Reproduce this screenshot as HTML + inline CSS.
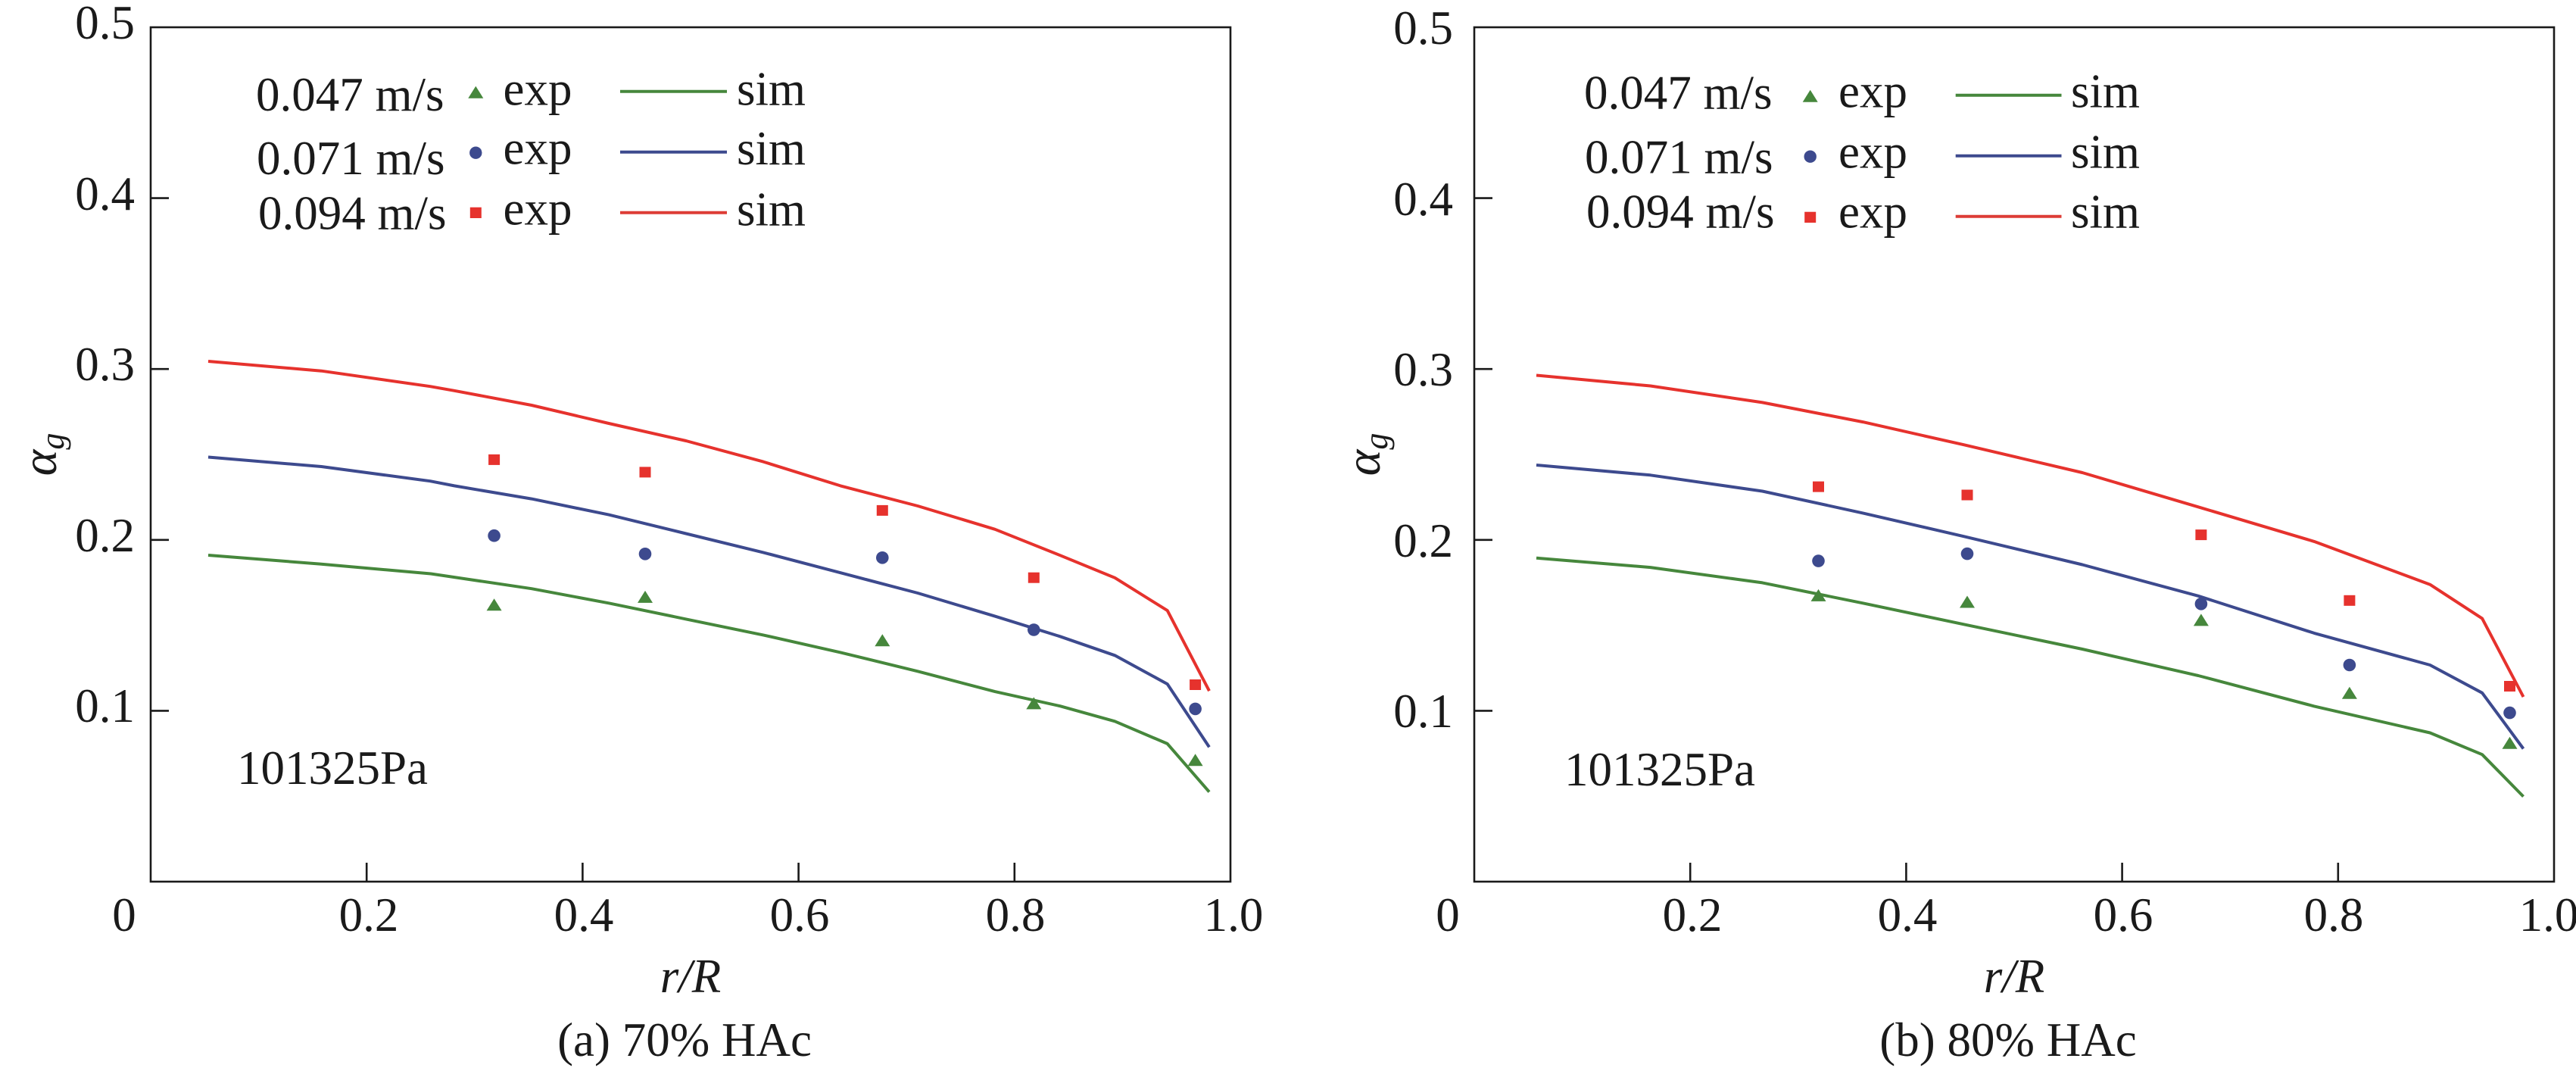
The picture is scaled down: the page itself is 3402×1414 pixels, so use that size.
<!DOCTYPE html>
<html>
<head>
<meta charset="utf-8">
<style>
  html, body { margin: 0; padding: 0; background: #ffffff; }
  svg { display: block; }
  text { font-family: "Liberation Serif", "Times New Roman", serif; fill: #1a1a1a; }
</style>
</head>
<body>
<svg width="3402" height="1414" viewBox="0 0 3402 1414" xmlns="http://www.w3.org/2000/svg" font-family="'Liberation Serif', serif">
  <rect x="0" y="0" width="3402" height="1414" fill="#ffffff"/>

  <!-- ================= LEFT PLOT ================= -->
  <g>
    <rect x="199" y="36" width="1426" height="1128" fill="none" stroke="#1a1a1a" stroke-width="2.6"/>
    <g stroke="#1a1a1a" stroke-width="2.6">
      <line x1="199" y1="938.4" x2="223" y2="938.4"/>
      <line x1="199" y1="712.8" x2="223" y2="712.8"/>
      <line x1="199" y1="487.2" x2="223" y2="487.2"/>
      <line x1="199" y1="261.6" x2="223" y2="261.6"/>
      <line x1="484.2" y1="1164" x2="484.2" y2="1139"/>
      <line x1="769.4" y1="1164" x2="769.4" y2="1139"/>
      <line x1="1054.6" y1="1164" x2="1054.6" y2="1139"/>
      <line x1="1339.8" y1="1164" x2="1339.8" y2="1139"/>
    </g>
    <g font-size="63" text-anchor="end">
      <text x="178" y="51">0.5</text>
      <text x="178" y="277">0.4</text>
      <text x="178" y="502">0.3</text>
      <text x="178" y="728">0.2</text>
      <text x="178" y="953">0.1</text>
    </g>
    <g font-size="63" text-anchor="middle">
      <text x="164" y="1229">0</text>
      <text x="487" y="1229">0.2</text>
      <text x="771" y="1229">0.4</text>
      <text x="1056" y="1229">0.6</text>
      <text x="1341" y="1229">0.8</text>
      <text x="1629" y="1229">1.0</text>
    </g>
    <text x="912" y="1310" font-size="63" font-style="italic" text-anchor="middle">r/R</text>
    <text x="904" y="1394" font-size="63" text-anchor="middle">(a) 70% HAc</text>
    <text transform="translate(74,600) rotate(-90)" font-size="66" font-style="italic" text-anchor="middle">α<tspan font-size="44" dy="10">g</tspan></text>
    <text x="313" y="1035" font-size="63">101325Pa</text>

    <g font-size="63">
      <text x="338" y="146">0.047 m/s</text>
      <text x="339" y="230">0.071 m/s</text>
      <text x="341" y="302.5">0.094 m/s</text>
      <text x="664.5" y="138.3">exp</text>
      <text x="664.5" y="216.7">exp</text>
      <text x="664.5" y="296.7">exp</text>
      <text x="973" y="138.3">sim</text>
      <text x="973" y="217">sim</text>
      <text x="973" y="297.3">sim</text>
    </g>
    <polygon points="618.3,129.7 638.3,129.7 628.3,113.7" fill="#46873c"/>
    <circle cx="628.3" cy="201.7" r="8.2" fill="#3d4a8e"/>
    <rect x="620.8" y="273.7" width="15" height="14.3" fill="#e6322d"/>
    <line x1="819" y1="120.7" x2="960" y2="120.7" stroke="#46873c" stroke-width="4"/>
    <line x1="819" y1="200.7" x2="960" y2="200.7" stroke="#3d4a8e" stroke-width="4"/>
    <line x1="819" y1="280.7" x2="960" y2="280.7" stroke="#dd3c36" stroke-width="4"/>

    <polyline fill="none" stroke="#e6322d" stroke-width="4" stroke-linejoin="round"
      points="275,477 424.4,489.7 568.2,510.2 600,515.8 702,535 804,559 906,582 1008,609.6 1110,641.4 1212,668 1314,698.8 1400,733.2 1472.3,762.8 1541.7,806.1 1597,912.2"/>
    <polyline fill="none" stroke="#3d4a8e" stroke-width="4" stroke-linejoin="round"
      points="275,603.5 424.4,616 568.2,635.2 600,641.4 702,658.6 804,679.6 906,704.5 1008,729.4 1110,756.2 1212,783 1314,813.6 1400,840.3 1472.3,865.3 1541.7,903.1 1597,986.4"/>
    <polyline fill="none" stroke="#46873c" stroke-width="4" stroke-linejoin="round"
      points="275,733 422.8,744.6 569,757.5 702,777.2 804,796.3 906,817.4 1008,838.4 1110,861.4 1212,886.3 1314,913.1 1400,932.2 1472.3,952.3 1541.7,981.9 1597,1045.6"/>

    <g fill="#e6322d">
      <rect x="645.1" y="599.9" width="15" height="14"/>
      <rect x="844.5" y="616.4" width="15" height="14"/>
      <rect x="1157.8" y="666.9" width="15" height="14"/>
      <rect x="1357.8" y="755.7" width="15" height="14"/>
      <rect x="1571.1" y="897" width="15" height="14"/>
    </g>
    <g fill="#3d4a8e">
      <circle cx="652.6" cy="707.2" r="8.3"/>
      <circle cx="852" cy="731.3" r="8.3"/>
      <circle cx="1165.3" cy="736.3" r="8.3"/>
      <circle cx="1365.3" cy="831.5" r="8.3"/>
      <circle cx="1578.6" cy="935.9" r="8.3"/>
    </g>
    <g fill="#46873c">
      <polygon points="642.6,806.3 662.6,806.3 652.6,790.3"/>
      <polygon points="842,795.9 862,795.9 852,779.9"/>
      <polygon points="1155.3,853.3 1175.3,853.3 1165.3,837.3"/>
      <polygon points="1355.3,936.4 1375.3,936.4 1365.3,920.4"/>
      <polygon points="1568.6,1011.3 1588.6,1011.3 1578.6,995.3"/>
    </g>
  </g>

  <!-- ================= RIGHT PLOT ================= -->
  <g>
    <rect x="1947" y="36" width="1426" height="1128" fill="none" stroke="#1a1a1a" stroke-width="2.6"/>
    <g stroke="#1a1a1a" stroke-width="2.6">
      <line x1="1947" y1="938.4" x2="1971" y2="938.4"/>
      <line x1="1947" y1="712.8" x2="1971" y2="712.8"/>
      <line x1="1947" y1="487.2" x2="1971" y2="487.2"/>
      <line x1="1947" y1="261.6" x2="1971" y2="261.6"/>
      <line x1="2232.2" y1="1164" x2="2232.2" y2="1139"/>
      <line x1="2517.4" y1="1164" x2="2517.4" y2="1139"/>
      <line x1="2802.6" y1="1164" x2="2802.6" y2="1139"/>
      <line x1="3087.8" y1="1164" x2="3087.8" y2="1139"/>
    </g>
    <g font-size="63" text-anchor="end">
      <text x="1919" y="58">0.5</text>
      <text x="1919" y="284">0.4</text>
      <text x="1919" y="509">0.3</text>
      <text x="1919" y="735">0.2</text>
      <text x="1919" y="960">0.1</text>
    </g>
    <g font-size="63" text-anchor="middle">
      <text x="1912" y="1229">0</text>
      <text x="2235" y="1229">0.2</text>
      <text x="2519" y="1229">0.4</text>
      <text x="2804" y="1229">0.6</text>
      <text x="3082" y="1229">0.8</text>
      <text x="3366" y="1229">1.0</text>
    </g>
    <text x="2660" y="1310" font-size="63" font-style="italic" text-anchor="middle">r/R</text>
    <text x="2652" y="1394" font-size="63" text-anchor="middle">(b) 80% HAc</text>
    <text transform="translate(1822,600) rotate(-90)" font-size="66" font-style="italic" text-anchor="middle">α<tspan font-size="44" dy="10">g</tspan></text>
    <text x="2066" y="1037" font-size="63">101325Pa</text>

    <g font-size="63">
      <text x="2092" y="143.3">0.047 m/s</text>
      <text x="2093" y="228.3">0.071 m/s</text>
      <text x="2095" y="300.7">0.094 m/s</text>
      <text x="2428" y="141.7">exp</text>
      <text x="2428" y="221.7">exp</text>
      <text x="2428" y="300.7">exp</text>
      <text x="2735" y="141.7">sim</text>
      <text x="2735" y="221.7">sim</text>
      <text x="2735" y="300.7">sim</text>
    </g>
    <polygon points="2380.7,134.7 2400.7,134.7 2390.7,118.7" fill="#46873c"/>
    <circle cx="2390.7" cy="206.7" r="8.2" fill="#3d4a8e"/>
    <rect x="2383.2" y="279.7" width="15" height="14.3" fill="#e6322d"/>
    <line x1="2582.7" y1="125.7" x2="2722.5" y2="125.7" stroke="#46873c" stroke-width="4"/>
    <line x1="2582.7" y1="205.7" x2="2722.5" y2="205.7" stroke="#3d4a8e" stroke-width="4"/>
    <line x1="2582.7" y1="285.7" x2="2722.5" y2="285.7" stroke="#dd3c36" stroke-width="4"/>

    <polyline fill="none" stroke="#e6322d" stroke-width="4" stroke-linejoin="round"
      points="2029,495.5 2179.6,509.5 2327.5,531.4 2460.2,557.1 2592.9,587.1 2750,624 2903.1,669.3 3056.2,714.9 3209.2,771.7 3278.1,816.6 3332.5,920.1"/>
    <polyline fill="none" stroke="#3d4a8e" stroke-width="4" stroke-linejoin="round"
      points="2029,614 2179.6,627.3 2327.5,648.5 2460.2,677.4 2592.9,708.1 2750,745.5 2903.1,786.8 3056.2,835.9 3209.2,878 3278.1,914.8 3332.5,988.5"/>
    <polyline fill="none" stroke="#46873c" stroke-width="4" stroke-linejoin="round"
      points="2029,736.7 2179.6,749.1 2327.5,769.4 2460.2,796.3 2592.9,824.2 2750,857 2903.1,892 3056.2,932.4 3209.2,967.5 3278.1,996.2 3332.5,1051.6"/>

    <g fill="#e6322d">
      <rect x="2394" y="635.6" width="15" height="14"/>
      <rect x="2590.5" y="646.5" width="15" height="14"/>
      <rect x="2899.4" y="699.1" width="15" height="14"/>
      <rect x="3095.4" y="785.8" width="15" height="14"/>
      <rect x="3307" y="899" width="15" height="14"/>
    </g>
    <g fill="#3d4a8e">
      <circle cx="2401.5" cy="740.6" r="8.3"/>
      <circle cx="2598" cy="731.1" r="8.3"/>
      <circle cx="2906.9" cy="797.3" r="8.3"/>
      <circle cx="3102.9" cy="878" r="8.3"/>
      <circle cx="3314.5" cy="941.1" r="8.3"/>
    </g>
    <g fill="#46873c">
      <polygon points="2391.5,793.9 2411.5,793.9 2401.5,777.9"/>
      <polygon points="2588,802.5 2608,802.5 2598,786.5"/>
      <polygon points="2896.9,826.4 2916.9,826.4 2906.9,810.4"/>
      <polygon points="3092.9,922.8 3112.9,922.8 3102.9,906.8"/>
      <polygon points="3304.5,988.8 3324.5,988.8 3314.5,972.8"/>
    </g>
  </g>
</svg>
</body>
</html>
